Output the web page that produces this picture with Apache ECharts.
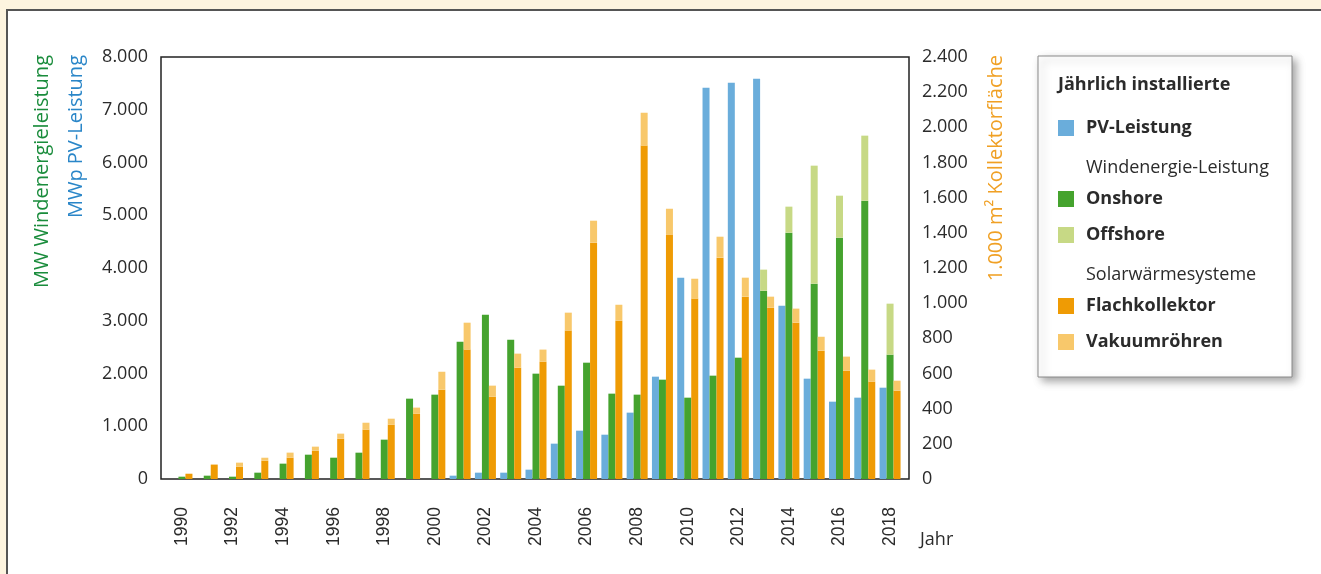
<!DOCTYPE html>
<html>
<head>
<meta charset="utf-8">
<script src="https://cdn.jsdelivr.net/npm/echarts@6/dist/echarts.min.js"></script>
<style>
  html, body { margin: 0; padding: 0; background: #ffffff; overflow: hidden; }
  #chart { width: 100vw; height: 100vh; }
</style>
</head>
<body>
<div id="chart"></div>
<script>
(function () {
    'use strict';

    // Jährlich installierte Leistung / Fläche.
    var years = ['1990', '1991', '1992', '1993', '1994', '1995', '1996', '1997', '1998', '1999',
        '2000', '2001', '2002', '2003', '2004', '2005', '2006', '2007', '2008', '2009',
        '2010', '2011', '2012', '2013', '2014', '2015', '2016', '2017', '2018'];

    // MWp
    var pv = [0, 0, 0, 0, 0, 0, 0, 0, 0, 0,
        0, 63, 120, 120, 177, 670, 916, 840, 1258, 1940,
        3817, 7419, 7513, 7589, 3286, 1902, 1466, 1542, 1731];

    // MW
    var onshore = [44, 63, 44, 120, 291, 461, 404, 499, 746, 1523,
        1599, 2603, 3115, 2641, 1997, 1769, 2205, 1618, 1599, 1883,
        1542, 1959, 2300, 3570, 4670, 3703, 4575, 5276, 2357];
    var offshore = [0, 0, 0, 0, 0, 0, 0, 0, 0, 0,
        0, 0, 0, 0, 0, 0, 0, 0, 0, 0,
        0, 0, 0, 399, 493, 2237, 796, 1233, 967];

    // 1.000 m² Kollektorfläche
    var flach = [30, 82, 70, 104, 121, 161, 229, 281, 309, 372,
        508, 736, 468, 633, 667, 844, 1344, 900, 1896, 1390,
        1026, 1259, 1037, 974, 889, 730, 616, 554, 502];
    var vakuum = [0, 0, 23, 17, 29, 23, 29, 39, 34, 34,
        102, 153, 63, 80, 69, 102, 125, 91, 187, 147,
        113, 119, 108, 63, 80, 79, 80, 68, 57];

    var leftTicks = { min: 0, max: 8000, interval: 1000 };
    var rightTicks = { min: 0, max: 2400, interval: 200 };

    var C_PV = '#6aaddb', C_ON = '#45a32e', C_OFF = '#c7d985',
        C_FLACH = '#ef9b04', C_VAK = '#f8c86b';

    var FONT = '"Open Sans", "Noto Sans", sans-serif';
    var TXT = '#2b2b2b';

    function dotted(v) {
        return String(v).replace(/\B(?=(\d{3})+(?!\d))/g, '.');
    }

    var chart = echarts.init(document.getElementById('chart'));

    // frame grid (0) carries the visible y axes, bar grid (1) is inset a bit
    var top = 57, height = 422;

    function legend(names, y) {
        return {
            data: names, orient: 'vertical', left: 1058, top: y, padding: 0,
            itemWidth: 16, itemHeight: 16, itemGap: 18, icon: 'rect',
            selectedMode: false,
            textStyle: {
                fontFamily: FONT, fontSize: 18, fontWeight: 'bold', color: TXT,
                lineHeight: 16, padding: [0, 0, 0, 7]
            }
        };
    }

    function yAxis(grid, pos, ticks, shown) {
        return {
            type: 'value', gridIndex: grid, position: pos,
            min: ticks.min, max: ticks.max, interval: ticks.interval,
            show: shown,
            axisLine: { show: false }, axisTick: { show: false }, splitLine: { show: false },
            axisLabel: {
                margin: 13, fontFamily: FONT, fontSize: 18, color: TXT,
                formatter: dotted
            }
        };
    }

    function vtext(x, y, text, color) {
        return {
            type: 'text', x: x, y: y, z: 5, rotation: Math.PI / 2,
            style: {
                text: text, fill: color, font: '20px ' + FONT,
                align: 'right', verticalAlign: 'middle'
            }
        };
    }

    function htext(x, y, text, bold) {
        return {
            type: 'text', x: x, y: y, z: 5,
            style: {
                text: text, fill: TXT, font: (bold ? 'bold ' : '') + '18px ' + FONT,
                align: 'left', verticalAlign: 'middle'
            }
        };
    }

    var option = {
        backgroundColor: '#fdf4df',
        animation: false,
        grid: [
            { left: 161, top: top, width: 748, height: height, show: true,
              borderColor: '#222', borderWidth: 1.5, backgroundColor: 'transparent' },
            { left: 169.3, top: top, width: 733.4, height: height }
        ],
        legend: [
            legend(['PV-Leistung'], 119),
            legend(['Onshore', 'Offshore'], 190),
            legend(['Flachkollektor', 'Vakuumröhren'], 297)
        ],
        xAxis: [
            { type: 'category', gridIndex: 0, data: years, show: false },
            {
                type: 'category', gridIndex: 1, data: years,
                axisLine: { show: false }, axisTick: { show: false },
                axisLabel: {
                    interval: 1, rotate: 90, margin: 28,
                    fontFamily: '"Liberation Sans", Arial, sans-serif', fontSize: 17.5, color: TXT
                }
            }
        ],
        yAxis: [
            yAxis(0, 'left', leftTicks, true),
            yAxis(0, 'right', rightTicks, true),
            yAxis(1, 'left', leftTicks, false),
            yAxis(1, 'right', rightTicks, false)
        ],
        series: [
            { name: 'PV-Leistung', type: 'bar', xAxisIndex: 1, yAxisIndex: 2, data: pv,
              itemStyle: { color: C_PV }, barWidth: 7, barGap: '0%' },
            { name: 'Onshore', type: 'bar', xAxisIndex: 1, yAxisIndex: 2, stack: 'wind', data: onshore,
              itemStyle: { color: C_ON }, barWidth: 7, barGap: '0%' },
            { name: 'Offshore', type: 'bar', xAxisIndex: 1, yAxisIndex: 2, stack: 'wind', data: offshore,
              itemStyle: { color: C_OFF }, barWidth: 7, barGap: '0%' },
            { name: 'Flachkollektor', type: 'bar', xAxisIndex: 1, yAxisIndex: 3, stack: 'solar', data: flach,
              itemStyle: { color: C_FLACH }, barWidth: 7, barGap: '0%' },
            { name: 'Vakuumröhren', type: 'bar', xAxisIndex: 1, yAxisIndex: 3, stack: 'solar', data: vakuum,
              itemStyle: { color: C_VAK }, barWidth: 7, barGap: '0%' }
        ],
        graphic: [
            // white panel with dark top/left edge (drawn past the canvas on right/bottom)
            { type: 'rect', z: -10, shape: { x: 7, y: 10, width: 1500, height: 800 },
              style: { fill: '#fff', stroke: '#555', lineWidth: 2 } },
            // legend box
            { type: 'rect', z: 1, shape: { x: 1038, y: 56, width: 254, height: 321 },
              style: { fill: '#fff', stroke: '#8a8a8a', lineWidth: 1,
                       shadowBlur: 8, shadowOffsetX: 4, shadowOffsetY: 4,
                       shadowColor: 'rgba(0,0,0,0.35)' } },
            htext(1058, 85, 'Jährlich installierte', true),
            htext(1086, 168, 'Windenergie-Leistung', false),
            htext(1086, 275, 'Solarwärmesysteme', false),
            vtext(42, 55, 'MW Windenergieleistung', '#1a8c3c'),
            vtext(76, 55, 'MWp PV-Leistung', '#2a86c8'),
            vtext(996, 55, '1.000 m² Kollektorfläche', '#f0a024'),
            { type: 'text', x: 920, y: 540, z: 5,
              style: { text: 'Jahr', fill: TXT, font: '18px ' + FONT, align: 'left', verticalAlign: 'middle' } }
        ]
    };

    chart.setOption(option);
})();
</script>
</body>
</html>
